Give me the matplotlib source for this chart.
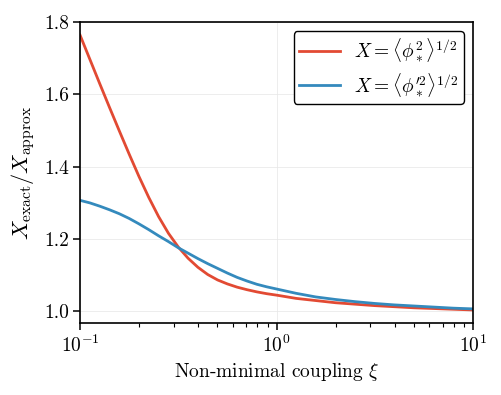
import matplotlib
matplotlib.use('Agg')
import matplotlib.pyplot as plt
import numpy as np

# данные (log10 xi -> отношение)
log_xi = [-1.00, -0.95, -0.90, -0.85, -0.80, -0.75, -0.70, -0.65, -0.60, -0.55,
          -0.50, -0.45, -0.40, -0.35, -0.30, -0.25, -0.20, -0.15, -0.10, -0.05,
          0.00, 0.10, 0.20, 0.30, 0.40, 0.50, 0.60, 0.70, 0.80, 0.90, 1.00]

ratio_phi = [1.764, 1.697, 1.630, 1.564, 1.499, 1.435, 1.373, 1.315, 1.262, 1.216,
             1.178, 1.147, 1.122, 1.102, 1.087, 1.076, 1.067, 1.060, 1.054, 1.049,
             1.045, 1.036, 1.030, 1.024, 1.020, 1.016, 1.013, 1.010, 1.008, 1.006, 1.004]

ratio_dphi = [1.307, 1.300, 1.291, 1.281, 1.270, 1.257, 1.242, 1.226, 1.209, 1.193,
              1.176, 1.161, 1.146, 1.132, 1.119, 1.106, 1.094, 1.084, 1.075, 1.068,
              1.062, 1.050, 1.040, 1.033, 1.027, 1.022, 1.018, 1.015, 1.012, 1.009, 1.007]

xi = 10.0 ** np.array(log_xi)

plt.rcParams['font.family'] = 'cmr10'
plt.rcParams['mathtext.fontset'] = 'cm'
plt.rcParams['axes.formatter.use_mathtext'] = True
plt.rcParams['axes.unicode_minus'] = False
plt.rcParams['font.size'] = 14

fig = plt.figure(figsize=(5.02, 3.95), dpi=100)
ax = fig.add_axes([0.1594, 0.1823, 0.7828, 0.762])

ax.plot(xi, ratio_phi, color='#E24A33', lw=2, label=r'$X = \langle \phi_*^2 \rangle^{1/2}$')
ax.plot(xi, ratio_dphi, color='#348ABD', lw=2, label=r'$X = \langle \phi_*^{\prime 2} \rangle^{1/2}$')

ax.set_xscale('log')
ax.set_xlim(0.1, 10)
ax.set_ylim(0.968, 1.8)
ax.set_yticks([1.0, 1.2, 1.4, 1.6, 1.8])
ax.set_yticklabels(['1.0', '1.2', '1.4', '1.6', '1.8'])

ax.grid(True, which='major', color='#e6e6e6', lw=0.5)
for s in ax.spines.values():
    s.set_linewidth(1.2)
ax.tick_params(which='major', direction='out', length=5, width=1.1, pad=3)
ax.tick_params(which='minor', direction='out', length=3, width=0.8)

ax.set_xlabel(r'Non-minimal coupling $\xi$', labelpad=4)
ax.set_ylabel(r'$X_{\rm exact}/X_{\rm approx}$', fontsize=16, labelpad=5)

leg = ax.legend(loc='upper right', frameon=True, fancybox=True, framealpha=1,
                edgecolor='black', fontsize=14, handlelength=2.1,
                handletextpad=0.7, borderaxespad=0.45, borderpad=0.3,
                labelspacing=0.35)
leg.get_frame().set_linewidth(1.0)

fig.savefig('out.png', dpi=100)
